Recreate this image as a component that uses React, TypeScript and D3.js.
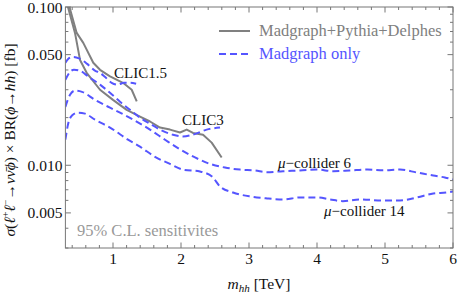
import React from "react";
import * as d3 from "d3";

const W = 458;
const H = 294;
const left = 65.4, right = 453, top = 7, bottom = 248;

// x ticks (TeV) and y ticks (fb)
const xMajor = [1, 2, 3, 4, 5, 6];
const xLabels = ["1", "2", "3", "4", "5", "6"];
const yMajor = [0.005, 0.01, 0.05, 0.1];
const yLabels = ["0.005", "0.010", "0.050", "0.100"];
const yMinor = [0.003, 0.004, 0.006, 0.007, 0.008, 0.009, 0.02, 0.03, 0.04, 0.06, 0.07, 0.08, 0.09];

// Madgraph only (blue dashed)
const clic15MgX = [0.3, 0.34, 0.41, 0.5, 0.62, 0.74, 0.81, 0.88, 0.98, 1.07, 1.16, 1.25, 1.34];
const clic15MgY = [0.0444, 0.047, 0.0484, 0.0474, 0.0437, 0.0395, 0.0384, 0.0362, 0.0332, 0.0323, 0.0332, 0.0332, 0.0327];

const clic3MgX = [0.3, 0.368, 0.426, 0.515, 0.642, 0.809, 0.956, 1.103, 1.25, 1.397, 1.544, 1.691, 1.882, 2.029, 2.176, 2.378, 2.574];
const clic3MgY = [0.0347, 0.0389, 0.0401, 0.0395, 0.0362, 0.0323, 0.0287, 0.0252, 0.0224, 0.02, 0.0183, 0.0168, 0.0156, 0.0152, 0.0156, 0.0168, 0.0173];

const mu6X = [0.3, 0.368, 0.441, 0.544, 0.735, 0.956, 1.132, 1.324, 1.544, 1.765, 1.985, 2.206, 2.426, 2.647, 2.868, 3.088, 3.265, 3.5, 3.75, 4.0, 4.24, 4.48, 4.74, 4.97, 5.22, 5.47, 5.71, 5.88, 6.0];
const mu6Y = [0.0234, 0.0279, 0.0296, 0.0291, 0.0259, 0.0231, 0.0212, 0.0191, 0.0168, 0.0145, 0.0126, 0.0112, 0.0102, 0.00967, 0.00939, 0.00926, 0.00904, 0.00917, 0.00926, 0.00939, 0.00917, 0.00926, 0.00939, 0.0093, 0.00939, 0.00899, 0.00861, 0.00837, 0.00813];

const mu14X = [0.3, 0.338, 0.397, 0.485, 0.588, 0.735, 0.956, 1.221, 1.397, 1.618, 1.838, 2.029, 2.279, 2.456, 2.574, 2.765, 3.015, 3.265, 3.5, 3.75, 4.0, 4.19, 4.38, 4.63, 4.97, 5.22, 5.47, 5.71, 5.9, 6.0];
const mu14Y = [0.0145, 0.0181, 0.0206, 0.0215, 0.0212, 0.0194, 0.0173, 0.0145, 0.0131, 0.0113, 0.0102, 0.00939, 0.00913, 0.00849, 0.00734, 0.00673, 0.00635, 0.00617, 0.00608, 0.00626, 0.00626, 0.00608, 0.00593, 0.00608, 0.00599, 0.00599, 0.00626, 0.00663, 0.00673, 0.00683];

// Madgraph+Pythia+Delphes (grey solid)
const clic15FullX = [0.331, 0.466, 0.563, 0.71, 0.809, 0.956, 1.147, 1.275, 1.349];
const clic15FullY = [0.1107, 0.0686, 0.0593, 0.0444, 0.0401, 0.0364, 0.0332, 0.03, 0.0253];

const clic3FullX = [0.31, 0.441, 0.515, 0.613, 0.809, 1.0, 1.201, 1.397, 1.544, 1.691, 1.838, 1.985, 2.084, 2.176, 2.324, 2.451, 2.598];
const clic3FullY = [0.1107, 0.0686, 0.0463, 0.0384, 0.03, 0.0259, 0.0224, 0.0203, 0.0189, 0.0173, 0.0168, 0.0161, 0.0168, 0.016, 0.0156, 0.0139, 0.0112];

const BLUE = "#5555ff";
const GREY = "#808080";
const SERIF = "'Liberation Serif', 'Times New Roman', serif";

const zip = (xs: number[], ys: number[]) => xs.map((x, i) => [x, ys[i]] as [number, number]);

export default function App() {
  const x = d3.scaleLinear([0.3, 6], [left, right]);
  const y = d3.scaleLog([0.003, 0.1], [bottom, top]);

  const smooth = d3.line<[number, number]>().x(d => x(d[0])).y(d => y(d[1])).curve(d3.curveMonotoneX);
  const raw = d3.line<[number, number]>().x(d => x(d[0])).y(d => y(d[1]));

  const blue = [zip(clic15MgX, clic15MgY), zip(clic3MgX, clic3MgY), zip(mu6X, mu6Y), zip(mu14X, mu14Y)];
  const grey = [zip(clic15FullX, clic15FullY), zip(clic3FullX, clic3FullY)];

  const xMinor = d3.range(0.4, 6, 0.2).filter(v => Math.abs(v - Math.round(v)) > 0.01);

  return (
    <svg width={W} height={H} style={{ position: "absolute", left: 0, top: 0, background: "#fff" }} fontFamily={SERIF}>
      <defs>
        <clipPath id="plot">
          <rect x={left} y={top} width={right - left} height={bottom - top} />
        </clipPath>
      </defs>

      <g clipPath="url(#plot)" fill="none">
        {grey.map((d, i) => (
          <path key={"g" + i} d={raw(d) || ""} stroke={GREY} strokeWidth={2} strokeLinejoin="round" />
        ))}
        {blue.map((d, i) => (
          <path key={"b" + i} d={smooth(d) || ""} stroke={BLUE} strokeWidth={2} strokeDasharray="7,4" />
        ))}
      </g>

      {/* frame */}
      <rect x={left} y={top} width={right - left} height={bottom - top} fill="none" stroke="#777" strokeWidth={1} />
      {xMajor.map(v => (
        <g key={"xm" + v}>
          <line x1={x(v)} x2={x(v)} y1={bottom} y2={bottom - 5.5} stroke="#777" />
          <line x1={x(v)} x2={x(v)} y1={top} y2={top + 5.5} stroke="#777" />
        </g>
      ))}
      {xMinor.map(v => (
        <g key={"xn" + v}>
          <line x1={x(v)} x2={x(v)} y1={bottom} y2={bottom - 3} stroke="#777" />
          <line x1={x(v)} x2={x(v)} y1={top} y2={top + 3} stroke="#777" />
        </g>
      ))}
      {yMajor.map(v => (
        <g key={"ym" + v}>
          <line x1={left} x2={left + 5.5} y1={y(v)} y2={y(v)} stroke="#777" />
          <line x1={right} x2={right - 5.5} y1={y(v)} y2={y(v)} stroke="#777" />
        </g>
      ))}
      {yMinor.map(v => (
        <g key={"yn" + v}>
          <line x1={left} x2={left + 3} y1={y(v)} y2={y(v)} stroke="#777" />
          <line x1={right} x2={right - 3} y1={y(v)} y2={y(v)} stroke="#777" />
        </g>
      ))}

      {/* tick labels */}
      <g fontSize={15.5} fill="#111">
        {xMajor.map((v, i) => (
          <text key={"xl" + v} x={x(v)} y={bottom + 16} textAnchor="middle">{xLabels[i]}</text>
        ))}
        {yMajor.map((v, i) => (
          <text key={"yl" + v} x={left - 3} y={y(v) + 5.5} textAnchor="end">{yLabels[i]}</text>
        ))}
      </g>

      {/* axis labels */}
      <text x={259} y={289} textAnchor="middle" fontSize={15.5} fill="#111">
        <tspan fontStyle="italic">m</tspan>
        <tspan fontStyle="italic" fontSize={11} dy={3}>hh</tspan>
        <tspan dy={-3}> [TeV]</tspan>
      </text>
      <text transform={`translate(15,140) rotate(-90)`} textAnchor="middle" fontSize={15.5} fill="#111">
        <tspan fontStyle="italic">σ</tspan>(<tspan fontStyle="italic">ℓ</tspan>
        <tspan fontSize={10} dy={-6}>+</tspan>
        <tspan fontStyle="italic" dy={6}>ℓ</tspan>
        <tspan fontSize={10} dy={-6}>−</tspan>
        <tspan dy={6}>→</tspan>
        <tspan fontStyle="italic">νν̄ϕ</tspan>) × BR(<tspan fontStyle="italic">ϕ</tspan>→<tspan fontStyle="italic">hh</tspan>) [fb]
      </text>

      {/* curve labels */}
      <g fontSize={15} fill="#111">
        <text x={114} y={78}>CLIC1.5</text>
        <text x={182} y={125}>CLIC3</text>
        <text x={278} y={168}><tspan fontStyle="italic">μ</tspan>−collider 6</text>
        <text x={324} y={216}><tspan fontStyle="italic">μ</tspan>−collider 14</text>
      </g>
      <text x={77} y={236} fontSize={16.5} fill="#999">95% C.L. sensitivites</text>

      {/* legend */}
      <line x1={219} x2={250} y1={31} y2={31} stroke={GREY} strokeWidth={2} />
      <text x={259} y={36} fontSize={16.5} fill={GREY}>Madgraph+Pythia+Delphes</text>
      <line x1={219} x2={250} y1={54} y2={54} stroke={BLUE} strokeWidth={2} strokeDasharray="7,4" />
      <text x={259} y={59} fontSize={16.5} fill={BLUE}>Madgraph only</text>
    </svg>
  );
}
